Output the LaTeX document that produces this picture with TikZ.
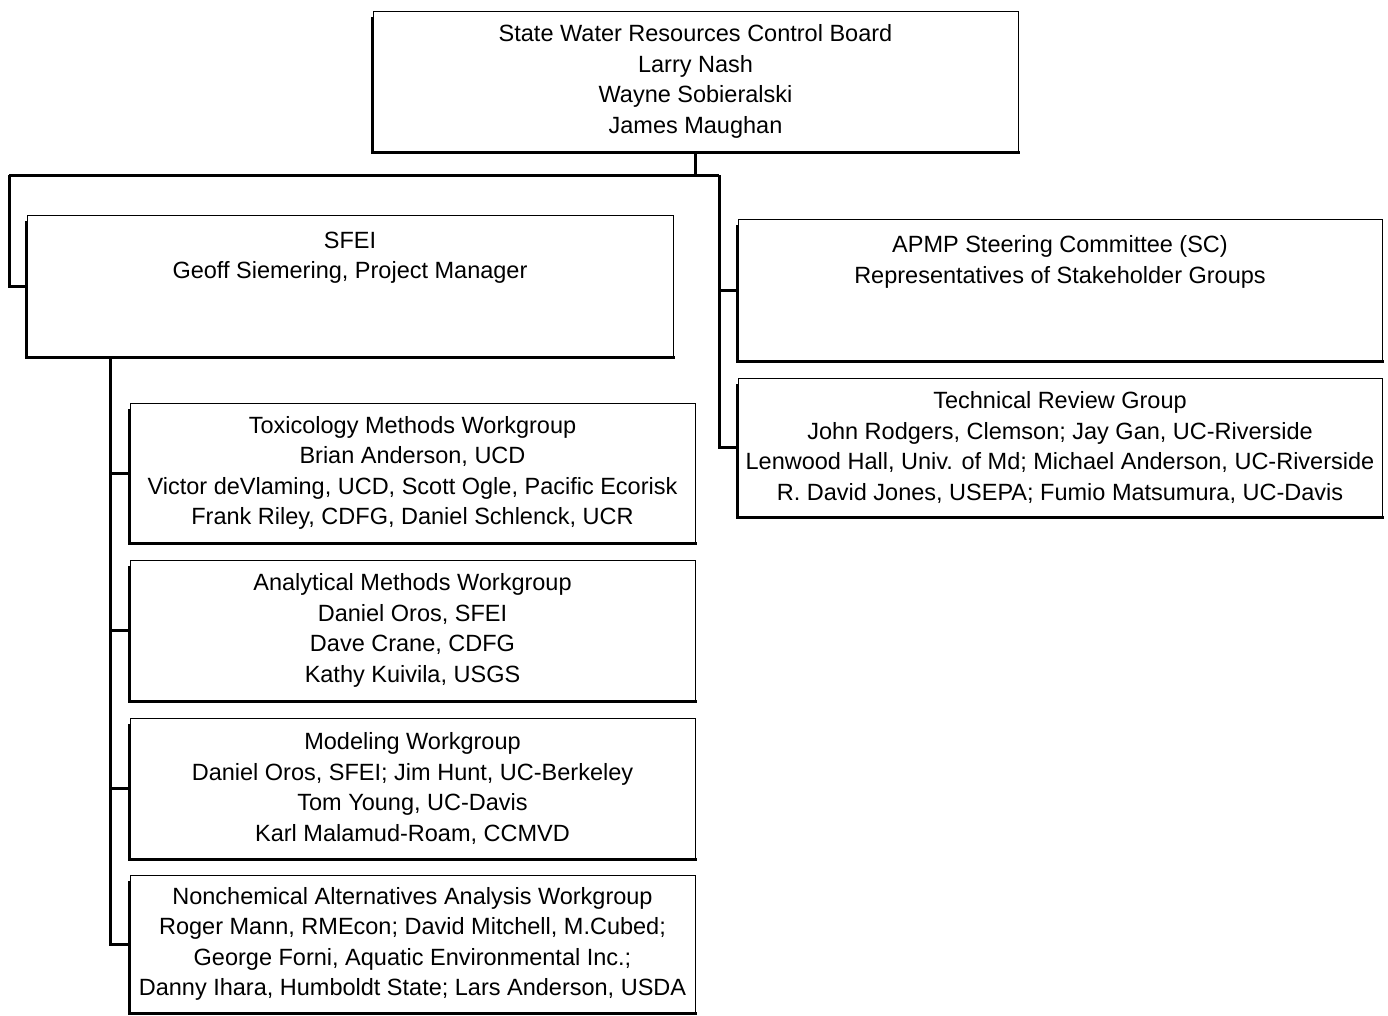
\documentclass[tikz,border=0pt]{standalone}
\usepackage{fontspec}
\setmainfont{Liberation Sans}
\begin{document}
\begin{tikzpicture}[x=1pt,y=-1pt,
  orgbox/.style={draw=black, line width=0.9pt, inner sep=0pt, align=center,
    font=\fontsize{23.5}{30.6}\selectfont},
  thickedge/.style={line width=3.6pt, line cap=rect},
  conn/.style={line width=3pt}]
\useasboundingbox (0,0) rectangle (1388,1015);
\fill[white] (0,0) rectangle (1388,1015);

\node[orgbox, minimum width=645, minimum height=141] (top) at (695.5,81.5)
  {State Water Resources Control Board\\Larry Nash\\Wayne Sobieralski\\James Maughan};
\node[orgbox, minimum width=646, minimum height=142] (sfei) at (350,286)
  {SFEI\\Geoff Siemering, Project Manager\\~\\~};
\node[orgbox, minimum width=644, minimum height=142] (apmp) at (1060,290)
  {APMP Steering Committee (SC)\\Representatives of Stakeholder Groups\\~\\~};
\node[orgbox, minimum width=644, minimum height=139] (trg) at (1060,447.5)
  {Technical Review Group\\John Rodgers, Clemson; Jay Gan, UC-Riverside\\Lenwood Hall, Univ. of Md; Michael Anderson, UC-Riverside\\R. David Jones, USEPA; Fumio Matsumura, UC-Davis};
\node[orgbox, minimum width=565, minimum height=140] (tox) at (412.5,473)
  {Toxicology Methods Workgroup\\Brian Anderson, UCD\\Victor deVlaming, UCD, Scott Ogle, Pacific Ecorisk\\Frank Riley, CDFG, Daniel Schlenck, UCR};
\node[orgbox, minimum width=565, minimum height=141] (anal) at (412.5,630.5)
  {Analytical Methods Workgroup\\Daniel Oros, SFEI\\Dave Crane, CDFG\\Kathy Kuivila, USGS};
\node[orgbox, minimum width=565, minimum height=141] (model) at (412.5,788.5)
  {Modeling Workgroup\\Daniel Oros, SFEI; Jim Hunt, UC-Berkeley\\Tom Young, UC-Davis\\Karl Malamud-Roam, CCMVD};
\node[orgbox, minimum width=565, minimum height=138] (nonchem) at (412.5,944)
  {Nonchemical Alternatives Analysis Workgroup\\Roger Mann, RMEcon; David Mitchell, M.Cubed;\\George Forni, Aquatic Environmental Inc.;\\Danny Ihara, Humboldt State; Lars Anderson, USDA};

\foreach \b in {top,sfei,apmp,trg,tox,anal,model,nonchem}
  \draw[thickedge] ([yshift=-8]\b.north west) -- (\b.south west) -- (\b.south east);

\coordinate (jL) at (9,175);
\coordinate (jR) at (719,175);
\coordinate (sv) at (110,357);

\draw[conn] (top.south) -- (top.south |- jR);
\draw[conn] (jL) -- (jR);
\draw[conn] (jL) |- (sfei.west);
\draw[conn] (jR) |- (apmp.west);
\draw[conn] (jR) |- (trg.west);
\draw[conn] (sv) |- (tox.west);
\draw[conn] (sv) |- (anal.west);
\draw[conn] (sv) |- (model.west);
\draw[conn] (sv) |- (nonchem.west);
\end{tikzpicture}
\end{document}
